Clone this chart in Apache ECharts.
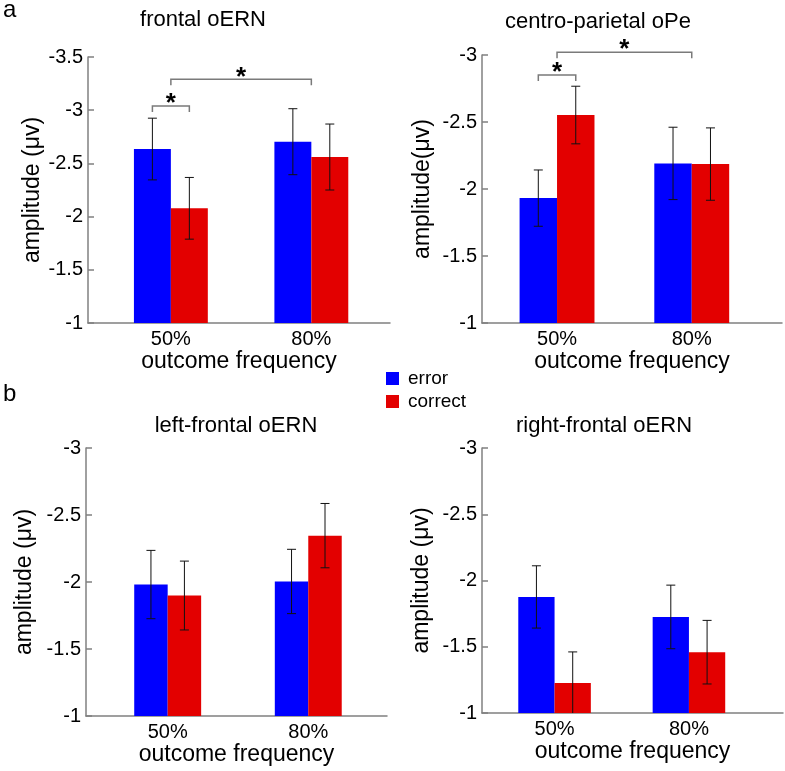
<!DOCTYPE html>
<html><head><meta charset="utf-8">
<script src="https://cdn.jsdelivr.net/npm/echarts@6/dist/echarts.min.js"></script>
<style>html,body{margin:0;padding:0;background:#fff}#c{width:785px;height:771px}</style>
</head><body><div id="c"></div>
<script>
// ---------- data ----------
const categories = ['50%', '80%'];
const seriesNames = ['error', 'correct'];

// a: frontal oERN
const frontalError = [-2.635, -2.704];
const frontalCorrect = [-2.078, -2.56];
const frontalErrorSE = [0.29, 0.31];
const frontalCorrectSE = [0.29, 0.31];
const frontalYTicks = [-3.5, -3, -2.5, -2, -1.5, -1];
const frontalSig = [[0, 'error', 0, 'correct', -3.04], [0, 'mid', 1, 'mid', -3.29]];

// a: centro-parietal oPe
const cpError = [-1.932, -2.191];
const cpCorrect = [-2.552, -2.186];
const cpErrorSE = [0.21, 0.27];
const cpCorrectSE = [0.215, 0.27];
const cpYTicks = [-3, -2.5, -2, -1.5, -1];
const cpSig = [[0, 'error', 0, 'correct', -2.85], [0, 'mid', 1, 'mid', -3.02]];

// b: left-frontal oERN
const lfError = [-1.981, -2.004];
const lfCorrect = [-1.899, -2.346];
const lfErrorSE = [0.255, 0.24];
const lfCorrectSE = [0.257, 0.24];
const lfYTicks = [-3, -2.5, -2, -1.5, -1];

// b: right-frontal oERN
const rfError = [-1.876, -1.725];
const rfCorrect = [-1.226, -1.459];
const rfErrorSE = [0.235, 0.24];
const rfCorrectSE = [0.235, 0.24];
const rfYTicks = [-3, -2.5, -2, -1.5, -1];

// ---------- layout / style ----------
const FONT = '"Liberation Sans", Arial, sans-serif';
const BLUE = '#0000ff', RED = '#e30000', AXIS = '#808080';
const panels = [
  {title: 'frontal oERN', tx: 203, ty: 20, yName: 'amplitude (\u03bcv)', yNameGap: 43,
   grid: {left: 88, top: 57, width: 302, height: 266}, xMin: 0.41, xMax: 2.56, barFrac: 0.263,
   err: frontalError, cor: frontalCorrect, errSE: frontalErrorSE, corSE: frontalCorrectSE,
   ticks: frontalYTicks, sig: frontalSig},
  {title: 'centro-parietal oPe', tx: 598, ty: 22, yName: 'amplitude(\u03bcv)', yNameGap: 48,
   grid: {left: 482, top: 55, width: 300, height: 268}, xMin: 0.443, xMax: 2.67, barFrac: 0.278,
   err: cpError, cor: cpCorrect, errSE: cpErrorSE, corSE: cpCorrectSE,
   ticks: cpYTicks, sig: cpSig},
  {title: 'left-frontal oERN', tx: 236, ty: 426, yName: 'amplitude (\u03bcv)', yNameGap: 50,
   grid: {left: 86, top: 448, width: 301, height: 268}, xMin: 0.419, xMax: 2.56, barFrac: 0.238,
   err: lfError, cor: lfCorrect, errSE: lfErrorSE, corSE: lfCorrectSE,
   ticks: lfYTicks, sig: []},
  {title: 'right-frontal oERN', tx: 604, ty: 426, yName: 'amplitude (\u03bcv)', yNameGap: 49,
   grid: {left: 482, top: 448, width: 301, height: 265}, xMin: 0.46, xMax: 2.70, barFrac: 0.27,
   err: rfError, cor: rfCorrect, errSE: rfErrorSE, corSE: rfCorrectSE,
   ticks: rfYTicks, sig: []}
];

const grids = [], xAxes = [], yAxes = [], series = [], graphics = [];

function errRender(params, api) {
  const x = api.value(0), m = api.value(1), s = api.value(2);
  const t = api.coord([x, m - s]);
  const b = api.coord([x, m + s]);
  const cap = 4.5;
  const st = {stroke: '#111', lineWidth: 1};
  return {type: 'group', children: [
    {type: 'line', shape: {x1: t[0], y1: t[1], x2: b[0], y2: b[1]}, style: st},
    {type: 'line', shape: {x1: t[0] - cap, y1: t[1], x2: t[0] + cap, y2: t[1]}, style: st},
    {type: 'line', shape: {x1: b[0] - cap, y1: b[1], x2: b[0] + cap, y2: b[1]}, style: st}
  ]};
}
function sigRender(params, api) {
  const p1 = api.coord([api.value(0), api.value(2)]);
  const p2 = api.coord([api.value(1), api.value(2)]);
  const drop = 6;
  return {type: 'group', children: [
    {type: 'polyline', shape: {points: [[p1[0], p1[1] + drop], p1, p2, [p2[0], p2[1] + drop]]},
     style: {stroke: '#7a7a7a', lineWidth: 1.5, fill: null}},
    {type: 'text', x: (p1[0] + p2[0]) / 2, y: p1[1] - 2,
     style: {text: '*', font: 'bold 26px ' + FONT, fill: '#000', textAlign: 'center', textVerticalAlign: 'middle'}}
  ]};
}

panels.forEach((p, i) => {
  grids.push(Object.assign({containLabel: false}, p.grid));
  xAxes.push({
    type: 'value', gridIndex: i, min: p.xMin, max: p.xMax,
    axisLine: {show: true, onZero: false, lineStyle: {color: AXIS, width: 1.5}},
    axisTick: {show: false}, splitLine: {show: false},
    axisLabel: {customValues: categories.map((c, k) => k + 1), formatter: v => categories[Math.round(v) - 1] || '',
      color: '#000', fontSize: 20, fontFamily: FONT, margin: 6},
    name: 'outcome frequency', nameLocation: 'middle', nameGap: 25,
    nameTextStyle: {color: '#000', fontSize: 23, fontFamily: FONT, verticalAlign: 'top'}
  });
  const tk = p.ticks;
  yAxes.push({
    type: 'value', gridIndex: i, inverse: true, min: tk[0], max: tk[tk.length - 1], interval: 0.5,
    axisLine: {show: true, onZero: false, lineStyle: {color: AXIS, width: 1.5}},
    axisTick: {show: true, inside: true, length: 6, lineStyle: {color: AXIS, width: 1.5}},
    splitLine: {show: false},
    axisLabel: {color: '#000', fontSize: 20, fontFamily: FONT, margin: 5},
    name: p.yName, nameLocation: 'middle', nameRotate: 90, nameGap: p.yNameGap,
    nameTextStyle: {color: '#000', fontSize: 23, fontFamily: FONT}
  });
  const half = p.barFrac / 2;
  [[p.err, p.errSE, BLUE, -half], [p.cor, p.corSE, RED, half]].forEach((d, j) => {
    series.push({
      type: 'bar', name: seriesNames[j], xAxisIndex: i, yAxisIndex: i,
      barWidth: (p.barFrac * 100) + '%', barGap: '0%',
      itemStyle: {color: d[2]}, clip: true, silent: true,
      data: d[0].map((v, k) => [k + 1, v])
    });
    series.push({
      type: 'custom', name: 'se' + i + j, xAxisIndex: i, yAxisIndex: i, clip: true, silent: true, z: 5,
      renderItem: errRender,
      data: d[0].map((v, k) => [k + 1 + d[3], v, d[1][k]])
    });
  });
  if (p.sig.length) {
    const off = g => g === 'error' ? -half : (g === 'correct' ? half : 0);
    series.push({
      type: 'custom', name: 'sig' + i, xAxisIndex: i, yAxisIndex: i, silent: true, z: 6,
      renderItem: sigRender,
      data: p.sig.map(s => [s[0] + 1 + off(s[1]), s[2] + 1 + off(s[3]), s[4]])
    });
  }
  graphics.push({type: 'text', x: p.tx, y: p.ty,
    style: {text: p.title, font: '22px ' + FONT, fill: '#000', textAlign: 'center', textVerticalAlign: 'middle'}});
});
graphics.push({type: 'text', x: 3, y: 10, style: {text: 'a', font: '24px ' + FONT, fill: '#000', textVerticalAlign: 'middle'}});
graphics.push({type: 'text', x: 3, y: 394, style: {text: 'b', font: '24px ' + FONT, fill: '#000', textVerticalAlign: 'middle'}});

const chart = echarts.init(document.getElementById('c'), null, {renderer: 'canvas'});
chart.setOption({
  animation: false,
  backgroundColor: '#fff',
  grid: grids, xAxis: xAxes, yAxis: yAxes, series: series, graphic: graphics,
  legend: {data: seriesNames, orient: 'vertical', left: 386, top: 369, padding: 0, itemWidth: 13, itemHeight: 13, itemGap: 4,
    icon: 'rect', selectedMode: false,
    textStyle: {fontSize: 19, fontFamily: FONT, color: '#000', padding: [0, 0, 0, 4]}}
});
</script></body></html>
